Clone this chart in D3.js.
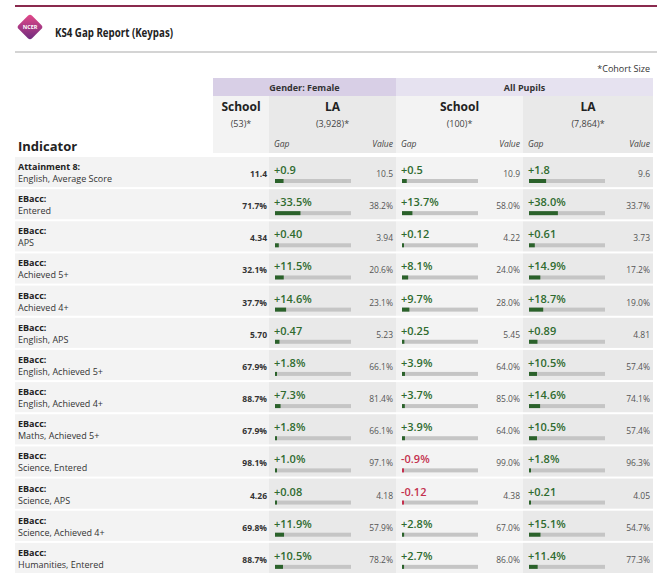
<!DOCTYPE html>
<html><head><meta charset="utf-8">
<script src="https://cdn.jsdelivr.net/npm/d3@7"></script>
<style>
html,body{margin:0;padding:0;background:#fff;}
svg{display:block;font-family:"Open Sans",sans-serif;}
</style></head>
<body>
<svg id="chart" width="657" height="580"></svg>
<script>
// ---- data ----
const indicatorGroups = ["Attainment 8:","EBacc:","EBacc:","EBacc:","EBacc:","EBacc:","EBacc:","EBacc:","EBacc:","EBacc:","EBacc:","EBacc:","EBacc:"];
const indicatorNames = ["English, Average Score","Entered","APS","Achieved 5+","Achieved 4+","English, APS","English, Achieved 5+","English, Achieved 4+","Maths, Achieved 5+","Science, Entered","Science, APS","Science, Achieved 4+","Humanities, Entered"];
const units = ["pts","%","pts","%","%","pts","%","%","%","%","pts","%","%"];
const femaleSchool = ["11.4","71.7%","4.34","32.1%","37.7%","5.70","67.9%","88.7%","67.9%","98.1%","4.26","69.8%","88.7%"];
const femaleLAGap = [0.9,33.5,0.40,11.5,14.6,0.47,1.8,7.3,1.8,1.0,0.08,11.9,10.5];
const femaleLAGapText = ["+0.9","+33.5%","+0.40","+11.5%","+14.6%","+0.47","+1.8%","+7.3%","+1.8%","+1.0%","+0.08","+11.9%","+10.5%"];
const femaleLAValue = ["10.5","38.2%","3.94","20.6%","23.1%","5.23","66.1%","81.4%","66.1%","97.1%","4.18","57.9%","78.2%"];
const allSchoolGap = [0.5,13.7,0.12,8.1,9.7,0.25,3.9,3.7,3.9,-0.9,-0.12,2.8,2.7];
const allSchoolGapText = ["+0.5","+13.7%","+0.12","+8.1%","+9.7%","+0.25","+3.9%","+3.7%","+3.9%","-0.9%","-0.12","+2.8%","+2.7%"];
const allSchoolValue = ["10.9","58.0%","4.22","24.0%","28.0%","5.45","64.0%","85.0%","64.0%","99.0%","4.38","67.0%","86.0%"];
const allLAGap = [1.8,38.0,0.61,14.9,18.7,0.89,10.5,14.6,10.5,1.8,0.21,15.1,11.4];
const allLAGapText = ["+1.8","+38.0%","+0.61","+14.9%","+18.7%","+0.89","+10.5%","+14.6%","+10.5%","+1.8%","+0.21","+15.1%","+11.4%"];
const allLAValue = ["9.6","33.7%","3.73","17.2%","19.0%","4.81","57.4%","74.1%","57.4%","96.3%","4.05","54.7%","77.3%"];
const groupLabels = ["Gender: Female","All Pupils"];
const colHeads = ["School","LA","School","LA"];
const cohorts = ["(53)*","(3,928)*","(100)*","(7,864)*"];
const gapDomainMax = {"%":100,"pts":8};

const rows = indicatorNames.map((n,i)=>({
  group:indicatorGroups[i], name:n, unit:units[i], school:femaleSchool[i],
  cells:[
    {gap:femaleLAGap[i], gapText:femaleLAGapText[i], value:femaleLAValue[i]},
    {gap:allSchoolGap[i], gapText:allSchoolGapText[i], value:allSchoolValue[i]},
    {gap:allLAGap[i], gapText:allLAGapText[i], value:allLAValue[i]}
  ]
}));

const svg = d3.select("#chart");

// ---- title bar ----
svg.append("rect").attr("x",15).attr("y",5).attr("width",642).attr("height",2).attr("fill","#8a2a4e");
svg.append("rect").attr("x",15).attr("y",51).attr("width",642).attr("height",2).attr("fill","#d4d4d4");
const defs = svg.append("defs");
const lg = defs.append("linearGradient").attr("id","lg").attr("x1","0").attr("y1","0").attr("x2","1").attr("y2","1");
lg.append("stop").attr("offset","0").attr("stop-color","#e84a8a");
lg.append("stop").attr("offset","1").attr("stop-color","#6b2a7e");
svg.append("rect").attr("x",-9.5).attr("y",-9.5).attr("width",19).attr("height",19).attr("rx",3)
  .attr("transform","translate(30,27) rotate(45)").attr("fill","url(#lg)");
svg.append("text").attr("x",30).attr("y",29).attr("text-anchor","middle").attr("font-size",5.5)
  .attr("font-weight",700).attr("fill","#fff").text("NCER");
svg.append("text").attr("x",55).attr("y",37).attr("font-size",12.5).attr("font-weight",700)
  .attr("fill","#222").attr("textLength",118).attr("lengthAdjust","spacingAndGlyphs").text("KS4 Gap Report (Keypas)");
svg.append("text").attr("x",650).attr("y",72).attr("text-anchor","end").attr("font-size",9).attr("fill","#333").text("*Cohort Size");

// ---- columns ----
const cols = [
  {x0:213,x1:269,bg:"#f3f3f3"},
  {x0:269,x1:396,bg:"#e9e9e9"},
  {x0:396,x1:523,bg:"#f3f3f3"},
  {x0:523,x1:653,bg:"#e9e9e9"}
];
const groups = [{x0:213,x1:396,bg:"#d8cfe6"},{x0:396,x1:653,bg:"#e6e2f0"}];

groups.forEach((g,i)=>{
  svg.append("rect").attr("x",g.x0).attr("y",78).attr("width",g.x1-g.x0).attr("height",18).attr("fill",g.bg);
  svg.append("text").attr("x",(g.x0+g.x1)/2).attr("y",90.5).attr("text-anchor","middle")
    .attr("font-size",9).attr("font-weight",700).attr("fill","#333").text(groupLabels[i]);
});
cols.forEach((c,i)=>{
  svg.append("rect").attr("x",c.x0).attr("y",96).attr("width",c.x1-c.x0).attr("height",57).attr("fill",c.bg);
  svg.append("text").attr("x",(c.x0+c.x1)/2).attr("y",111).attr("text-anchor","middle")
    .attr("font-size",12).attr("font-weight",700).attr("fill","#222").text(colHeads[i]);
  svg.append("text").attr("x",(c.x0+c.x1)/2).attr("y",127).attr("text-anchor","middle")
    .attr("font-size",9).attr("fill","#444").text(cohorts[i]);
  if(i>0){
    svg.append("text").attr("x",c.x0+5).attr("y",147).attr("font-size",8.5).attr("font-style","italic").attr("fill","#444").text("Gap");
    svg.append("text").attr("x",c.x1-3).attr("y",147).attr("text-anchor","end").attr("font-size",8.5).attr("font-style","italic").attr("fill","#444").text("Value");
  }
});
svg.append("text").attr("x",18).attr("y",151).attr("font-size",13).attr("font-weight",700).attr("fill","#222").text("Indicator");

// ---- rows ----
const y = d3.scaleBand().domain(d3.range(rows.length)).range([157,157+32*rows.length]).paddingInner(2/32).paddingOuter(0);
const barW = 76;
const scales = {};
Object.keys(gapDomainMax).forEach(k=>{ scales[k]=d3.scaleLinear().domain([0,gapDomainMax[k]]).range([0,barW]).clamp(true); });

const rg = svg.selectAll("g.row").data(rows).join("g").attr("class","row")
  .attr("transform",(d,i)=>`translate(0,${y(i)})`);
const h = y.bandwidth();
rg.append("rect").attr("x",15).attr("width",254).attr("height",h).attr("fill","#f3f3f3");
cols.slice(1).forEach((c)=>{
  rg.append("rect").attr("x",c.x0).attr("width",c.x1-c.x0).attr("height",h).attr("fill",c.bg);
});
rg.append("text").attr("x",18).attr("y",13).attr("font-size",9).attr("font-weight",700).attr("fill","#222").text(d=>d.group);
rg.append("text").attr("x",18).attr("y",25).attr("font-size",9).attr("fill","#333").text(d=>d.name);
rg.append("text").attr("x",267).attr("y",20).attr("text-anchor","end").attr("font-size",8.5).attr("font-weight",700).attr("fill","#333").text(d=>d.school);

cols.slice(1).forEach((c,ci)=>{
  const bx = c.x0+6;
  rg.append("text").attr("x",c.x0+5).attr("y",17).attr("font-size",11).attr("font-weight",600)
    .attr("fill",d=>d.cells[ci].gap<0?"#c4304e":"#2f6b2f").text(d=>d.cells[ci].gapText);
  rg.append("rect").attr("x",bx).attr("y",22).attr("width",barW).attr("height",4).attr("fill","#c5c5c5");
  rg.append("rect").attr("x",bx).attr("y",22).attr("height",4)
    .attr("width",d=>Math.max(2,scales[d.unit](Math.abs(d.cells[ci].gap))))
    .attr("fill",d=>d.cells[ci].gap<0?"#c4304e":"#2b622b");
  rg.append("text").attr("x",c.x1-3).attr("y",20).attr("text-anchor","end").attr("font-size",8.5)
    .attr("fill","#555").text(d=>d.cells[ci].value);
});
</script>
</body></html>
